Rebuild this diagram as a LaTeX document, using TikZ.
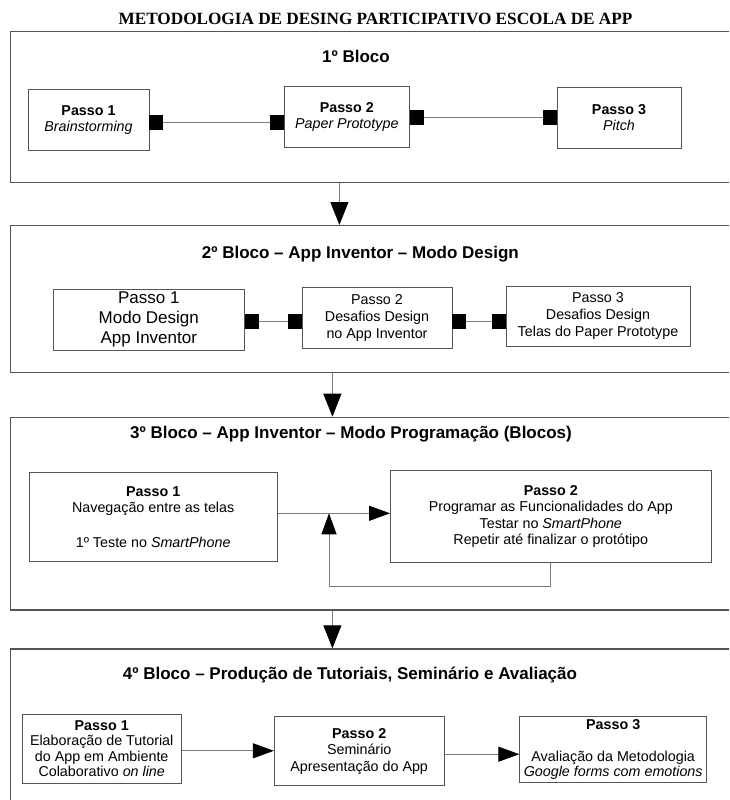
\documentclass[tikz,border=0pt]{standalone}
\usepackage{fontspec}
\setmainfont{Liberation Sans}
\newfontfamily\headserif{Liberation Serif}
\usepackage{tikz}
\usetikzlibrary{arrows.meta, positioning, calc}
\definecolor{framegray}{RGB}{85, 85, 85}
\definecolor{linkgray}{RGB}{125, 125, 125}

\tikzset{
  blockframe/.style={draw=framegray, line width=1.2pt, fill=white, anchor=north west,
                     inner sep=0pt, minimum width=750pt},
  blocktitle/.style={font=\fontsize{17}{20}\selectfont\bfseries},
  stepbox/.style={draw=framegray, line width=0.9pt, fill=white, align=center, inner sep=1pt,
                  font=\fontsize{14.3}{16.5}\selectfont},
  sqlink/.style={draw=linkgray, line width=1pt,
                 {Square[length=14pt,width=15pt,color=black]}-{Square[length=14pt,width=15pt,color=black]}},
  flowarrow/.style={draw=linkgray, line width=1pt, -{Triangle[length=21pt,width=15pt,color=black]}},
  blockarrow/.style={draw=linkgray, line width=1pt, -{Triangle[length=23pt,width=18pt,color=black]}}
}

\begin{document}
\begin{tikzpicture}[x=1pt, y=-1pt]
    \useasboundingbox (0,0) rectangle (729,800);
    \clip (0,0) rectangle (729,800);
    \fill[white] (0,0) rectangle (729,800);

    \node[font=\headserif\bfseries\fontsize{17.2}{20}\selectfont] (title) at (375.5,19)
        {METODOLOGIA DE DESING PARTICIPATIVO ESCOLA DE APP};

    % 1o bloco
    \node[blockframe, minimum height=150.7pt] (b1) at (10,31) {};
    \node[blocktitle] (title1) at (356,56) {1º Bloco};
    \node[stepbox, minimum width=121pt, minimum height=61pt] (b1p1) at (88.5,120)
        {\textbf{Passo 1}\\\textit{Brainstorming}};
    \node[stepbox, minimum width=124.5pt, minimum height=60.6pt] (b1p2) at (346.8,117)
        {\textbf{Passo 2}\\\textit{Paper Prototype}};
    \node[stepbox, minimum width=124pt, minimum height=61pt] (b1p3) at (619,117.8)
        {\textbf{Passo 3}\\\textit{Pitch}};
    \draw[sqlink] ([yshift=-2pt]b1p1.east) -- ([yshift=-2pt]b1p1.east -| b1p2.west);
    \draw[sqlink] (b1p2.east) -- (b1p2.east -| b1p3.west);

    % 2o bloco
    \node[blockframe, minimum height=146.7pt] (b2) at (10,225) {};
    \node[blocktitle] (title2) at (360.4,254) {2º Bloco – App Inventor – Modo Design};
    \node[stepbox, font=\fontsize{17}{20}\selectfont, minimum width=190.5pt, minimum height=61.7pt]
        (b2p1) at (148.8,319.9) {Passo 1\\Modo Design\\App Inventor};
    \node[stepbox, font=\fontsize{14.3}{17}\selectfont, minimum width=150pt, minimum height=61pt]
        (b2p2) at (377,317.5) {Passo 2\\Desafios Design\\no App Inventor};
    \node[stepbox, font=\fontsize{14.3}{17}\selectfont, minimum width=184pt, minimum height=60.7pt]
        (b2p3) at (598,316.4) {Passo 3\\Desafios Design\\Telas do Paper Prototype};
    \draw[sqlink] ([yshift=-2pt]b2p1.east) -- ([yshift=-2pt]b2p1.east -| b2p2.west);
    \draw[sqlink] ([yshift=-4pt]b2p2.east) -- ([yshift=-4pt]b2p2.east -| b2p3.west);

    % 3o bloco
    \node[blockframe, minimum height=192.6pt] (b3) at (10,416.7) {};
    \node[blocktitle] (title3) at (351,434) {3º Bloco – App Inventor – Modo Programação (Blocos)};
    \node[stepbox, minimum width=247.7pt, minimum height=88.7pt] (b3p1) at (153.2,516.7)
        {\textbf{Passo 1}\\Navegação entre as telas\\[18pt]1º Teste no \textit{SmartPhone}};
    \node[stepbox, minimum width=320.5pt, minimum height=91.5pt] (b3p2) at (550.8,516.3)
        {\textbf{Passo 2}\\Programar as Funcionalidades do App\\Testar no \textit{SmartPhone}\\Repetir até finalizar o protótipo};
    \coordinate (loopjoin) at (329,513.3);
    \draw[flowarrow] (loopjoin -| b3p1.east) -- (loopjoin -| b3p2.west);
    \draw[flowarrow] (b3p2.south) -- ++(0,24) -| (loopjoin);

    % 4o bloco
    \node[blockframe, minimum height=200pt] (b4) at (10,648.3) {};
    \node[blocktitle] (title4) at (350,675) {4º Bloco – Produção de Tutoriais, Seminário e Avaliação};
    \node[stepbox, font=\fontsize{14.3}{15.5}\selectfont, minimum width=158.7pt, minimum height=69pt]
        (b4p1) at (101.7,748.8)
        {\textbf{Passo 1}\\Elaboração de Tutorial\\do App em Ambiente\\Colaborativo \textit{on line}};
    \node[stepbox, minimum width=169.7pt, minimum height=69pt] (b4p2) at (359.2,751.2)
        {\textbf{Passo 2}\\Seminário\\Apresentação do App};
    \node[stepbox, font=\fontsize{14.3}{15}\selectfont, minimum width=186.8pt, minimum height=66.7pt]
        (b4p3) at (613.2,749.4)
        {\textbf{Passo 3}\\[17pt]Avaliação da Metodologia\\\textit{Google forms com emotions}};
    \draw[flowarrow] ([yshift=-2pt]b4p1.east) -- ([yshift=-2pt]b4p1.east -| b4p2.west);
    \draw[flowarrow] ([yshift=-3pt]b4p2.east) -- ([yshift=-3pt]b4p2.east -| b4p3.west);

    % ligacoes entre blocos
    \coordinate (down1) at (339.4,0);
    \coordinate (down2) at (332.4,0);
    \draw[blockarrow] (down1 |- b1.south) -- (down1 |- b2.north);
    \draw[blockarrow] (down2 |- b2.south) -- (down2 |- b3.north);
    \draw[blockarrow] (down2 |- b3.south) -- (down2 |- b4.north);
\end{tikzpicture}
\end{document}
